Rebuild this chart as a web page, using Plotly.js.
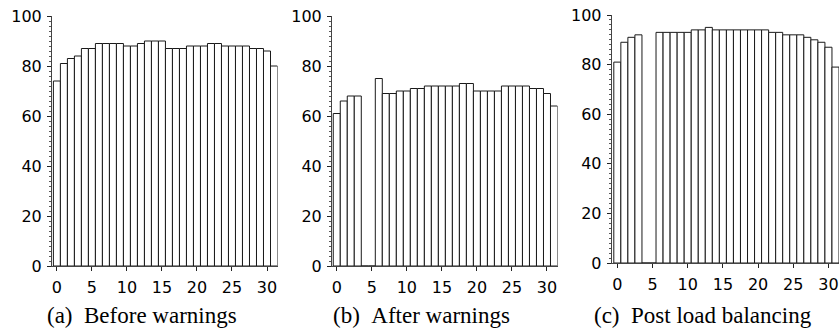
<!DOCTYPE html>
<html>
<head>
<meta charset="utf-8">
<script src="https://cdn.plot.ly/plotly-3.0.1.min.js"></script>
<style>html,body{margin:0;padding:0;background:#fff;}#chart{width:839px;height:331px;}</style>
</head>
<body>
<div id="chart"></div>
<script>
// Node index 0..31
const nodes = Array.from({length: 32}, (_, i) => i);
const beforeWarnings = [74,81,83,84,87,87,89,89,89,89,88,88,89,90,90,90,87,87,87,88,88,88,89,89,88,88,88,88,87,87,86,80];
const afterWarnings  = [61,66,68,68,0,0,75,69,69,70,70,71,71,72,72,72,72,72,73,73,70,70,70,70,72,72,72,72,71,71,69,64];
const postBalancing  = [81,89,91,92,0,0,93,93,93,93,93,94,94,95,94,94,94,94,94,94,94,94,93,93,92,92,92,91,90,89,87,79];
const captions = ["(a)\u2002Before warnings", "(b)\u2002After warnings", "(c)\u2002Post load balancing"];
const xTicks = [0,5,10,15,20,25,30];
const yTicks = [0,20,40,60,80,100];

const series = [beforeWarnings, afterWarnings, postBalancing];
const traces = series.map((vals, k) => ({
  type: 'bar',
  x: nodes,
  y: vals,
  xaxis: k === 0 ? 'x' : 'x' + (k + 1),
  yaxis: k === 0 ? 'y' : 'y' + (k + 1),
  marker: {color: '#ffffff', line: {color: '#1a1a1a', width: 1}},
  hoverinfo: 'skip',
  showlegend: false
}));

const tickFont = {family: 'DejaVu Sans, sans-serif', size: 16, color: '#000'};
function xa(domain, range) {
  return {
    domain: domain, range: range, showgrid: false, zeroline: false,
    showline: true, linecolor: '#444', linewidth: 1,
    ticks: 'outside', ticklen: 4, tickcolor: '#222', tickwidth: 1,
    ticklabelstandoff: 3,
    tickvals: xTicks, ticktext: xTicks.map(String), tickfont: tickFont, fixedrange: true
  };
}
function ya(domain, anchor) {
  return {
    domain: domain, range: [0, 100], anchor: anchor, showgrid: false, zeroline: false,
    showline: true, linecolor: '#444', linewidth: 1,
    ticks: 'outside', ticklen: 4, tickcolor: '#222', tickwidth: 1,
    ticklabelstandoff: 2,
    tickvals: yTicks, ticktext: yTicks.map(String), tickfont: tickFont,
    minor: {dtick: 2, ticks: 'outside', ticklen: 2, tickcolor: '#555', tickwidth: 1, showgrid: false},
    fixedrange: true
  };
}

const capX = [141.5, 421.7, 702.5];
const layout = {
  width: 839, height: 331,
  margin: {l: 0, r: 0, t: 15, b: 65, pad: 0},
  paper_bgcolor: '#fff', plot_bgcolor: '#fff',
  bargap: 0,
  xaxis:  Object.assign(xa([52/839, 277.5/839], [-0.7, 31.5]), {anchor: 'y'}),
  xaxis2: Object.assign(xa([332/839, 557.5/839], [-0.68, 31.5]), {anchor: 'y2'}),
  xaxis3: Object.assign(xa([611.7/839, 1], [-0.8, 31.5]), {anchor: 'y3'}),
  yaxis:  ya([0, 250/251], 'x'),
  yaxis2: ya([0, 250/251], 'x2'),
  yaxis3: ya([3/251, 1], 'x3'),
  annotations: captions.map((t, i) => ({
    text: t, xref: 'paper', yref: 'paper',
    x: capX[i] / 839, y: -(301 - 266) / 251,
    xanchor: 'center', yanchor: 'top', showarrow: false,
    font: {family: 'Liberation Serif, Times New Roman, serif', size: 23, color: '#000'}
  }))
};

Plotly.newPlot('chart', traces, layout, {displayModeBar: false, staticPlot: true});
</script>
</body>
</html>
